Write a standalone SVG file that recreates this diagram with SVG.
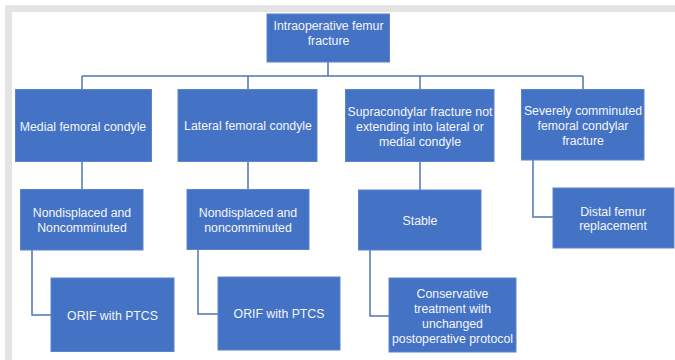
<svg xmlns="http://www.w3.org/2000/svg" width="675" height="360" viewBox="0 0 675 360">
<style>
.box{fill:#4472c4;stroke:#5b84cc;stroke-width:1}
.t{font-family:"Liberation Sans",Arial,sans-serif;font-size:12.3px;fill:#f4f6fb;text-anchor:middle}
.c{fill:none;stroke:#4f74b3;stroke-width:1.5}
</style>
<rect x="0" y="0" width="675" height="360" fill="#ffffff"/>
<path d="M5 5H675V12H12V360H5Z" fill="#e4e4e4"/>
<g id="connectors">
<path class="c" d="M328 62V76M82 76H583M82 76V90M248 76V90M420 76V90M583 76V90"/>
<path class="c" d="M82 162V190M248 162V190M420 162V190"/>
<path class="c" d="M533 160V217H553"/>
<path class="c" d="M32 250V315H51"/>
<path class="c" d="M198 250V314H218"/>
<path class="c" d="M370 250V316H389"/>
</g>
<g id="n_root"><rect class="box" x="267" y="14" width="122.5" height="48"/><text class="t" x="328.5" y="30">Intraoperative femur</text><text class="t" x="328.5" y="44.5">fracture</text></g>
<g id="n_medial"><rect class="box" x="15.5" y="89.5" width="136" height="72"/><text class="t" x="83" y="131">Medial femoral condyle</text></g>
<g id="n_lateral"><rect class="box" x="178" y="89.5" width="139" height="72"/><text class="t" x="248" y="130">Lateral femoral condyle</text></g>
<g id="n_supra"><rect class="box" x="345.5" y="89.5" width="148.5" height="72"/><text class="t" x="420" y="115.5">Supracondylar fracture not</text><text class="t" x="420" y="130.5">extending into lateral or</text><text class="t" x="420" y="145.5">medial condyle</text></g>
<g id="n_severe"><rect class="box" x="521.5" y="89.5" width="122.5" height="70.5"/><text class="t" x="583" y="115">Severely comminuted</text><text class="t" x="583" y="130">femoral condylar</text><text class="t" x="583" y="145">fracture</text></g>
<g id="n_nd1"><rect class="box" x="20.5" y="189.5" width="122.5" height="60.5"/><text class="t" x="82" y="217">Nondisplaced and</text><text class="t" x="82" y="231.5">Noncomminuted</text></g>
<g id="n_nd2"><rect class="box" x="187" y="189.5" width="122" height="60"/><text class="t" x="248" y="217">Nondisplaced and</text><text class="t" x="248" y="231.5">noncomminuted</text></g>
<g id="n_stable"><rect class="box" x="358.5" y="190" width="122.5" height="60"/><text class="t" x="420" y="224.5">Stable</text></g>
<g id="n_distal"><rect class="box" x="553" y="188" width="121" height="60"/><text class="t" x="613" y="215.5">Distal femur</text><text class="t" x="613" y="230">replacement</text></g>
<g id="n_orif1"><rect class="box" x="51" y="278" width="123" height="73.5"/><text class="t" x="112.5" y="319.5">ORIF with PTCS</text></g>
<g id="n_orif2"><rect class="box" x="218" y="277" width="122" height="73"/><text class="t" x="279" y="318">ORIF with PTCS</text></g>
<g id="n_cons"><rect class="box" x="389" y="278" width="127" height="74"/><text class="t" x="452.5" y="297.5">Conservative</text><text class="t" x="452.5" y="312.5">treatment with</text><text class="t" x="452.5" y="327.5">unchanged</text><text class="t" x="452.5" y="342.5">postoperative protocol</text></g>
</svg>
